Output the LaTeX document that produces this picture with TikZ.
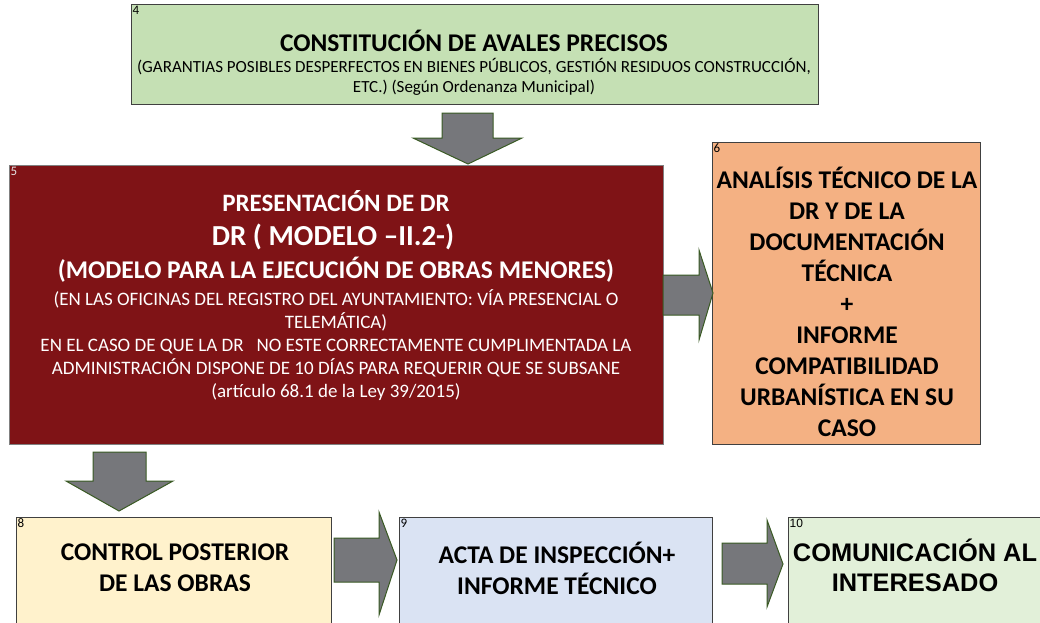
\documentclass[tikz,border=0pt]{standalone}
\usepackage{fontspec}
\setmainfont{Carlito}
\newfontfamily\arialfont{Liberation Sans}
\usetikzlibrary{positioning,calc}

\definecolor{avalgreen}{HTML}{C5E0B4}
\definecolor{drred}{HTML}{7F1316}
\definecolor{analorange}{HTML}{F4B183}
\definecolor{ctrlyellow}{HTML}{FFF2CC}
\definecolor{actablue}{HTML}{DAE3F3}
\definecolor{comgreen}{HTML}{E2F0D9}
\definecolor{arrowgray}{HTML}{76777B}
\definecolor{arrowedge}{HTML}{3A5A24}

\tikzset{
  stepbox/.style={draw=black!75, line width=0.8pt, inner sep=0pt, anchor=north west},
  boxnum/.style={anchor=north west, inner sep=1.5pt, font=\fontsize{13}{14}\selectfont},
  blockarrow/.style={draw=arrowedge, fill=arrowgray, line width=1pt, line join=miter},
  bigtext/.style={align=center, inner sep=0pt, font=\bfseries\fontsize{25.5}{31}\selectfont},
  smalltext/.style={align=center, inner sep=0pt, font=\fontsize{19}{23}\selectfont}
}

\begin{document}
\begin{tikzpicture}[x=1pt,y=-1pt]
\useasboundingbox (0,0) rectangle (1040,622);
\clip (0,0) rectangle (1040,622);

% cajas
\node[stepbox, fill=avalgreen, minimum width=687, minimum height=100] (b4) at (131,4) {};
\node[stepbox, fill=drred, draw=black!50, minimum width=654, minimum height=279] (b5) at (9,165) {};
\node[stepbox, fill=analorange, minimum width=268, minimum height=302] (b6) at (712,142) {};
\node[stepbox, fill=ctrlyellow, minimum width=315, minimum height=130] (b8) at (16,517) {};
\node[stepbox, fill=actablue, minimum width=313, minimum height=130] (b9) at (399,517) {};
\node[stepbox, fill=comgreen, minimum width=280, minimum height=130] (b10) at (788,517) {};

% numeros
\node[boxnum] (n4) at (b4.north west) {4};
\node[boxnum, text=white!90!black] (n5) at (b5.north west) {5};
\node[boxnum] (n6) at (b6.north west) {6};
\node[boxnum] (n8) at (b8.north west) {8};
\node[boxnum] (n9) at (b9.north west) {9};
\node[boxnum, font=\arialfont\fontsize{12}{13}\selectfont] (n10) at (b10.north west) {10};

% textos
\node[inner sep=0pt, font=\bfseries\fontsize{25.5}{28}\selectfont] (t4) at (474,41) {CONSTITUCIÓN DE AVALES PRECISOS};
\node[align=center, inner sep=0pt, font=\fontsize{17}{20}\selectfont] (s4) at (474,77) {(GARANTIAS POSIBLES DESPERFECTOS EN BIENES PÚBLICOS, GESTIÓN RESIDUOS CONSTRUCCIÓN,\\ETC.) (Según Ordenanza Municipal)};

\node[inner sep=0pt, text=white, font=\bfseries\fontsize{25}{28}\selectfont] (t5a) at (336,201) {PRESENTACIÓN DE DR};
\node[inner sep=0pt, text=white, font=\bfseries\fontsize{29}{32}\selectfont] (t5b) at (333,237) {DR ( MODELO –II.2-)};
\node[inner sep=0pt, text=white, font=\bfseries\fontsize{25.5}{28}\selectfont] (t5c) at (336,270) {(MODELO PARA LA EJECUCIÓN DE OBRAS MENORES)};
\node[smalltext, text=white] (t5d) at (336,345) {(EN LAS OFICINAS DEL REGISTRO DEL AYUNTAMIENTO: VÍA PRESENCIAL O\\TELEMÁTICA)\\EN EL CASO DE QUE LA DR\ \ \ NO ESTE CORRECTAMENTE CUMPLIMENTADA LA\\ADMINISTRACIÓN DISPONE DE 10 DÍAS PARA REQUERIR QUE SE SUBSANE\\(artículo 68.1 de la Ley 39/2015)};

\node[bigtext] (t6) at (847,302) {ANALÍSIS TÉCNICO DE LA\\DR Y DE LA\\DOCUMENTACIÓN\\TÉCNICA\\+\\INFORME\\COMPATIBILIDAD\\URBANÍSTICA EN SU\\CASO};
\node[bigtext] (t8) at (175,568) {CONTROL POSTERIOR\\DE LAS OBRAS};
\node[bigtext] (t9) at (557,568) {ACTA DE INSPECCIÓN+\\INFORME TÉCNICO};
\node[bigtext, font=\arialfont\bfseries\fontsize{25.4}{30}\selectfont] (t10) at (915,565) {COMUNICACIÓN AL\\INTERESADO};

% flechas
\draw[blockarrow] (442,113) -- (493,113) -- (493,138) -- (522,138) -- (468,164) -- (413,138) -- (442,138) -- cycle;
\draw[blockarrow] (663,275) -- (699,275) -- (699,250) -- (713,293) -- (699,340) -- (699,315) -- (663,315) -- cycle;
\draw[blockarrow] (93,452) -- (146,452) -- (146,481) -- (173,481) -- (119,511) -- (66,481) -- (93,481) -- cycle;
\draw[blockarrow] (334,538) -- (379,538) -- (379,512) -- (397,560) -- (379,615) -- (379,582) -- (334,582) -- cycle;
\draw[blockarrow] (722,543) -- (767,543) -- (767,520) -- (783,564) -- (767,607) -- (767,584) -- (722,584) -- cycle;
\end{tikzpicture}
\end{document}
